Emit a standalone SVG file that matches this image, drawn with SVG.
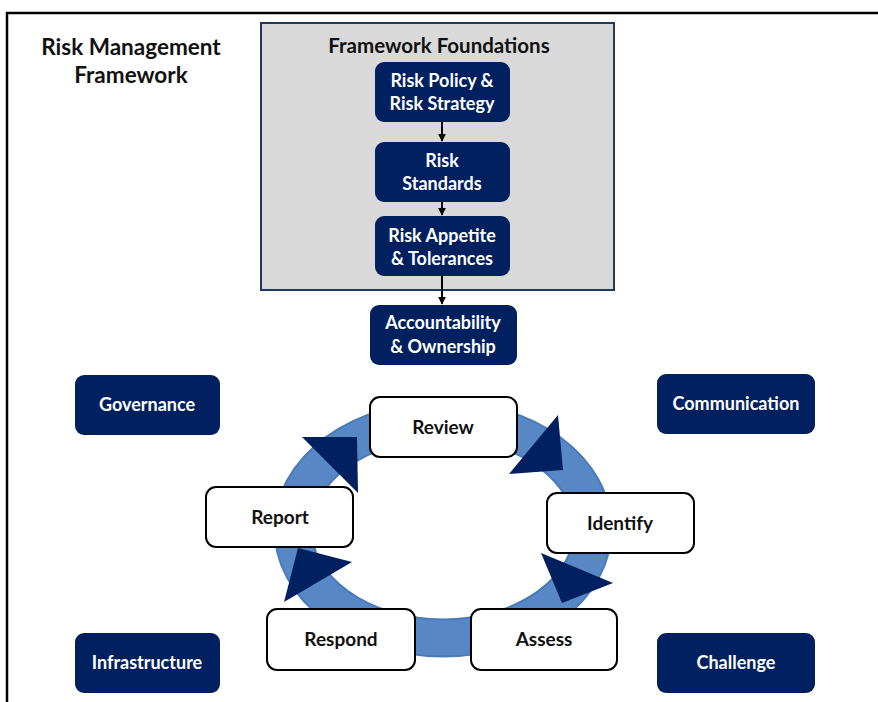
<svg xmlns="http://www.w3.org/2000/svg" width="878" height="702" viewBox="0 0 878 702">
<style>
text{font-family:Lato,"Open Sans","Liberation Sans",sans-serif;font-weight:bold;text-anchor:middle}
.w{fill:#ffffff;font-size:18px}
.k{fill:#111111;font-size:19px}
.navy{fill:#002060}
.cyc{fill:#ffffff;stroke:#000000;stroke-width:2}
.head{fill:#002060}
</style>
<defs>
<marker id="ah" viewBox="0 0 10 10" refX="9" refY="5" markerWidth="4" markerHeight="4" orient="auto"><path d="M0,0 L10,5 L0,10 z" fill="#000"/></marker>
</defs>
<rect width="878" height="702" fill="#ffffff"/>
<path d="M7,702 V13 H878" fill="none" stroke="#000" stroke-width="2.5"/>
<g id="title"><text x="131" y="55" class="k" style="font-size:22.5px">Risk Management</text><text x="131" y="83" class="k" style="font-size:22.5px">Framework</text></g>
<g id="foundations">
<rect x="261" y="23" width="353" height="267" fill="#d9d9d9" stroke="#1f3864" stroke-width="2"/>
<text x="439" y="53" class="k" style="font-size:20.5px">Framework Foundations</text>
</g>
<g id="policy"><rect x="375" y="62" width="135" height="60" rx="9" class="navy"/><text x="442" y="87" class="w">Risk Policy &amp;</text><text x="442" y="110" class="w">Risk Strategy</text></g>
<g id="standards"><rect x="375" y="142" width="135" height="60" rx="9" class="navy"/><text x="442" y="167" class="w">Risk</text><text x="442" y="190" class="w">Standards</text></g>
<g id="appetite"><rect x="375" y="216" width="135" height="60" rx="9" class="navy"/><text x="442" y="242" class="w">Risk Appetite</text><text x="442" y="265" class="w">&amp; Tolerances</text></g>
<g id="accountability"><rect x="370" y="305" width="147" height="60" rx="9" class="navy"/><text x="443" y="329" class="w">Accountability</text><text x="443" y="353" class="w">&amp; Ownership</text></g>
<g id="governance"><rect x="75" y="375" width="145" height="60" rx="9" class="navy"/><text x="147" y="411" class="w">Governance</text></g>
<g id="communication"><rect x="657" y="374" width="158" height="60" rx="9" class="navy"/><text x="736" y="410" class="w">Communication</text></g>
<g id="infrastructure"><rect x="75" y="633" width="145" height="60" rx="9" class="navy"/><text x="147" y="669" class="w">Infrastructure</text></g>
<g id="challenge"><rect x="657" y="633" width="158" height="60" rx="9" class="navy"/><text x="736" y="669" class="w">Challenge</text></g>
<g id="connectors">
<line x1="442" y1="122" x2="442" y2="141" stroke="#000" stroke-width="2" marker-end="url(#ah)"/>
<line x1="442" y1="202" x2="442" y2="215" stroke="#000" stroke-width="2" marker-end="url(#ah)"/>
<line x1="442" y1="276" x2="442" y2="304" stroke="#000" stroke-width="2" marker-end="url(#ah)"/>
<ellipse cx="443" cy="529" rx="150" ry="109" fill="none" stroke="#4a7ab8" stroke-width="39"/>
<ellipse cx="443" cy="529" rx="150" ry="109" fill="none" stroke="#5887c6" stroke-width="35"/>
</g>
<g id="review"><rect x="370" y="397" width="147" height="60" rx="10" class="cyc"/><text x="443" y="434" class="k">Review</text></g>
<g id="identify"><rect x="547" y="493" width="147" height="60" rx="10" class="cyc"/><text x="620" y="530" class="k">Identify</text></g>
<g id="assess"><rect x="471" y="609" width="146" height="61" rx="10" class="cyc"/><text x="544" y="646" class="k">Assess</text></g>
<g id="respond"><rect x="267" y="609" width="148" height="61" rx="10" class="cyc"/><text x="341" y="646" class="k">Respond</text></g>
<g id="report"><rect x="206" y="487" width="147" height="60" rx="10" class="cyc"/><text x="280" y="524" class="k">Report</text></g>
<g id="arrowheads">
<polygon points="302,437 357,437 358,493" class="head"/>
<polygon points="558,415 563,470 509,474" class="head"/>
<polygon points="541,553 613,583 562,603" class="head"/>
<polygon points="298,548 352,562 284,602" class="head"/>
</g>
</svg>
